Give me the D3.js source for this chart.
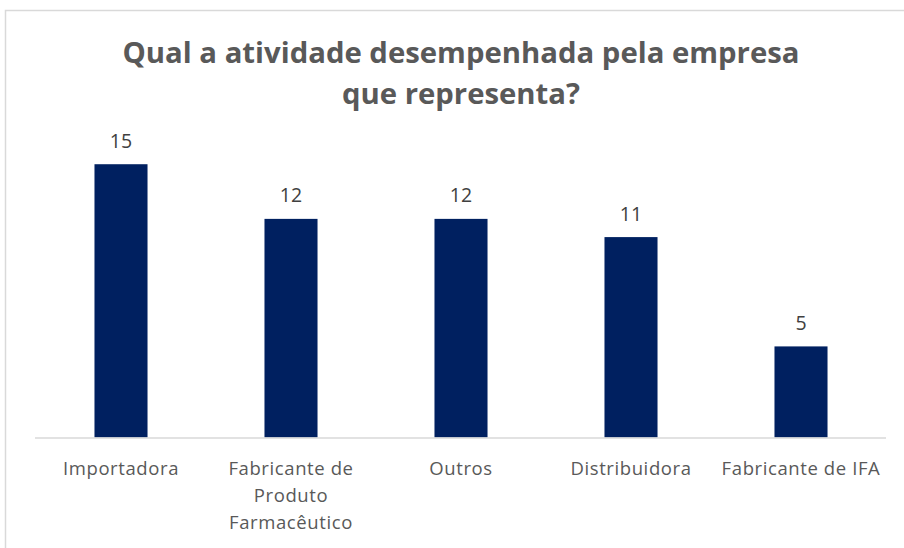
<!DOCTYPE html>
<html>
<head>
<meta charset="utf-8">
<script src="https://cdn.jsdelivr.net/npm/d3@7/dist/d3.min.js"></script>
<style>
  html, body { margin: 0; padding: 0; background: #fff; }
  svg { display: block; }
</style>
</head>
<body>
<div id="chart"></div>
<script>
// Survey answers: activity performed by the represented company
const categories = ["Importadora", "Fabricante de Produto Farmacêutico", "Outros", "Distribuidora", "Fabricante de IFA"];
const counts = [15, 12, 12, 11, 5];
const titleLines = ["Qual a atividade desempenhada pela empresa", "que representa?"];

const W = 904, H = 548;
const svg = d3.select("#chart").append("svg").attr("width", W).attr("height", H);

// chart frame
svg.append("rect")
  .attr("x", 5.5).attr("y", 10.5)
  .attr("width", 920).attr("height", 560)
  .attr("fill", "#fff").attr("stroke", "#d9d9d9").attr("stroke-width", 1.5);

const x = d3.scaleBand()
  .domain(categories)
  .range([36, 886])
  .paddingInner(0.688)
  .paddingOuter(0.344);

const y = d3.scaleLinear()
  .domain([0, 16])
  .range([437.5, 146]);

// title, two centred bold lines
const title = svg.append("g").attr("font-family", "'Open Sans', sans-serif")
  .attr("font-weight", 700).attr("fill", "#595959").attr("text-anchor", "middle");
const titleWidths = [677, 238];
titleLines.forEach((t, i) => {
  title.append("text")
    .attr("x", 461).attr("y", 63 + i * 41)
    .attr("font-size", 29)
    .attr("textLength", titleWidths[i])
    .attr("lengthAdjust", "spacingAndGlyphs")
    .text(t);
});

// bars
svg.append("g").selectAll("rect")
  .data(categories)
  .join("rect")
  .attr("x", d => x(d))
  .attr("width", x.bandwidth())
  .attr("y", (d, i) => y(counts[i]))
  .attr("height", (d, i) => y(0) - y(counts[i]))
  .attr("fill", "#002060");

// value labels
svg.append("g").selectAll("text")
  .data(categories)
  .join("text")
  .attr("x", d => x(d) + x.bandwidth() / 2)
  .attr("y", (d, i) => y(counts[i]) - 16.5)
  .attr("text-anchor", "middle")
  .attr("font-family", "'Open Sans', sans-serif")
  .attr("font-size", 19.5)
  .attr("fill", "#404040")
  .text((d, i) => counts[i]);

// category axis
const xAxis = svg.append("g")
  .attr("transform", `translate(0,${438})`)
  .call(d3.axisBottom(x).tickSize(0).tickPadding(0).tickSizeOuter(0));
xAxis.select(".domain")
  .attr("d", "M35,0H886")
  .attr("stroke", "#d9d9d9").attr("stroke-width", 1.5);

xAxis.selectAll(".tick text")
  .attr("font-family", "'Open Sans', sans-serif")
  .attr("font-size", 18.5)
  .attr("letter-spacing", 0.6)
  .attr("fill", "#595959")
  .attr("dy", null)
  .each(function (d) {
    const text = d3.select(this);
    const words = d.split(/\s+/);
    const maxW = 168, lineH = 27;
    text.text(null);
    let line = [];
    let row = 0;
    let tspan = text.append("tspan").attr("x", 0).attr("y", 37);
    words.forEach(w => {
      line.push(w);
      tspan.text(line.join(" "));
      if (tspan.node().getComputedTextLength() > maxW && line.length > 1) {
        line.pop();
        tspan.text(line.join(" "));
        line = [w];
        row++;
        tspan = text.append("tspan").attr("x", 0).attr("y", 37 + row * lineH).text(w);
      }
    });
  });
</script>
</body>
</html>
